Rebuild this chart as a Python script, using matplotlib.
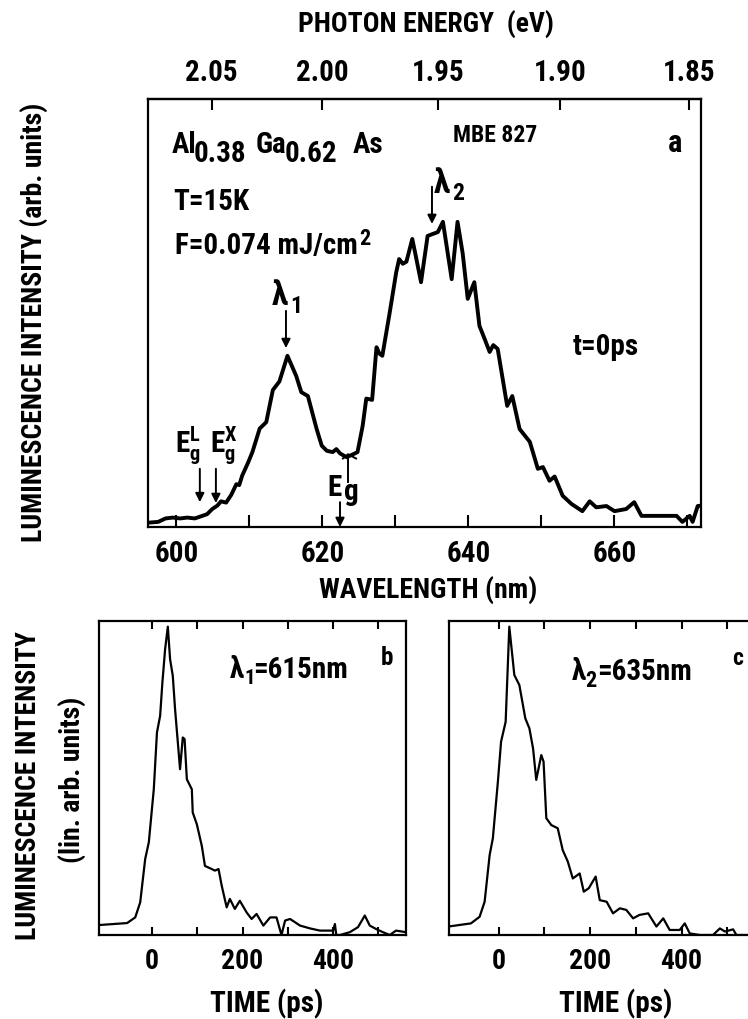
import matplotlib.pyplot as plt
import numpy as np
from matplotlib import font_manager

# --- spectrum at t = 0 ps (panel a) ---
wavelength_nm = [596.1, 597.5, 598.5, 599.5, 600.5, 601.5, 602.5, 603.2, 604.2, 604.9,
                 605.6, 606.1, 606.8, 607.5, 608.2, 608.6, 609.0, 609.8, 610.4, 611.4,
                 612.3, 613.2, 614.1, 615.2, 616.4, 617.1, 618.0, 619.2, 619.9, 620.6,
                 621.4, 621.9, 622.4, 623.3, 624.2, 624.8, 625.5, 626.0, 626.8, 627.4,
                 627.8, 628.2, 629.2, 630.1, 630.5, 631.0, 631.5, 632.3, 632.7, 633.5,
                 634.4, 635.0, 635.8, 636.5, 637.7, 638.5, 639.2, 639.9, 640.8, 641.5,
                 642.2, 642.9, 643.4, 644.0, 645.3, 646.0, 647.0, 648.4, 649.5, 650.2,
                 651.1, 651.8, 652.9, 654.1, 655.6, 656.6, 657.5, 658.9, 660.0, 661.6,
                 662.7, 663.7, 666.2, 668.5, 669.3, 670.3, 670.7, 671.4, 671.9]
spectrum = [0.010, 0.012, 0.020, 0.022, 0.020, 0.022, 0.020, 0.024, 0.030, 0.042,
            0.050, 0.060, 0.057, 0.075, 0.100, 0.098, 0.120, 0.150, 0.175, 0.230,
            0.245, 0.320, 0.340, 0.400, 0.353, 0.315, 0.306, 0.229, 0.190, 0.178,
            0.175, 0.182, 0.172, 0.163, 0.170, 0.175, 0.236, 0.300, 0.297, 0.420,
            0.405, 0.400, 0.500, 0.595, 0.626, 0.615, 0.620, 0.673, 0.640, 0.572,
            0.680, 0.684, 0.689, 0.713, 0.579, 0.713, 0.640, 0.533, 0.572, 0.470,
            0.440, 0.409, 0.425, 0.416, 0.283, 0.306, 0.229, 0.199, 0.136, 0.140,
            0.108, 0.118, 0.073, 0.054, 0.037, 0.060, 0.046, 0.049, 0.037, 0.042,
            0.058, 0.026, 0.026, 0.026, 0.012, 0.026, 0.012, 0.049, 0.050]

# --- time decay at lambda1 = 615 nm (panel b) ---
time_b = [-117, -114, -55, -37, -26, -15, -7, 4, 11, 18, 23, 29, 35, 40, 46, 51, 62, 68,
          72, 77, 88, 90, 99, 110, 117, 132, 139, 147, 154, 165, 172, 183, 194, 209, 220,
          231, 246, 261, 275, 286, 294, 305, 327, 349, 371, 400, 404, 407, 415, 437, 455,
          470, 481, 495, 510, 525, 539, 561]
decay_b = [0.032, 0.032, 0.038, 0.056, 0.104, 0.242, 0.295, 0.464, 0.645, 0.698, 0.804,
           0.910, 0.982, 0.878, 0.825, 0.719, 0.528, 0.629, 0.624, 0.496, 0.464, 0.390,
           0.353, 0.284, 0.220, 0.210, 0.205, 0.210, 0.157, 0.088, 0.115, 0.083, 0.109,
           0.072, 0.051, 0.067, 0.030, 0.056, 0.056, 0.000, 0.046, 0.051, 0.030, 0.021,
           0.014, 0.014, 0.035, 0.000, 0.000, 0.009, 0.025, 0.062, 0.030, 0.019, 0.009,
           0.000, 0.014, 0.009]

# --- time decay at lambda2 = 635 nm (panel c) ---
time_c = [-110, -61, -42, -31, -20, -13, -2, 5, 15, 23, 34, 45, 58, 67, 75, 82, 93, 98,
          104, 115, 129, 140, 151, 162, 177, 186, 197, 212, 221, 236, 250, 265, 279, 294,
          308, 327, 345, 360, 374, 396, 407, 418, 440, 469, 484, 495, 513, 520, 545, 563]
decay_c = [0.027, 0.037, 0.058, 0.106, 0.255, 0.308, 0.488, 0.616, 0.679, 0.982, 0.828,
           0.796, 0.690, 0.658, 0.594, 0.494, 0.573, 0.552, 0.372, 0.350, 0.340, 0.270,
           0.234, 0.180, 0.196, 0.138, 0.149, 0.186, 0.111, 0.106, 0.069, 0.085, 0.080,
           0.053, 0.064, 0.069, 0.027, 0.053, 0.016, 0.016, 0.037, 0.005, 0.000, 0.000,
           0.021, 0.011, 0.018, 0.000, 0.000, 0.000]

wl_ticks = [600, 620, 640, 660]
wl_minor = [610, 630, 650, 670]
ev_ticks = [2.05, 2.00, 1.95, 1.90, 1.85]
t_ticks = [0, 200, 400]
t_minor = [100, 300, 500]

lambda1_nm, lambda2_nm = 615, 635
gap_L_nm, gap_X_nm, gap_nm = 603.2, 605.4, 622.4

W, H = 748, 1020


def pick_font():
    bold = set()
    for f in font_manager.fontManager.ttflist:
        w = f.weight if isinstance(f.weight, int) else font_manager.weight_dict.get(f.weight, 400)
        if w >= 700:
            bold.add(f.name)
    for name in ["Roboto Condensed", "Archivo Narrow", "PT Sans Narrow",
                 "Liberation Sans Narrow", "Open Sans Condensed",
                 "Saira SemiCondensed", "Sofia Sans Condensed"]:
        if name in bold:
            return name
    return "DejaVu Sans"


FONT = pick_font()
plt.rcParams["font.family"] = [FONT, "DejaVu Sans"]
plt.rcParams["font.weight"] = "bold"
plt.rcParams["mathtext.default"] = "regular"


def fx(px):
    return px / W


def fy(py):
    return 1 - py / H


def nm_to_ev(x):
    x = np.asarray(x, dtype=float)
    with np.errstate(divide="ignore"):
        return 1239.84 / x


fig = plt.figure(figsize=(W / 100, H / 100), dpi=100)
fig.patch.set_facecolor("white")


def label(px, py, s, size, **kw):
    kw.setdefault("va", "baseline")
    return fig.text(fx(px), fy(py), s, fontsize=size, **kw)


ax_a = fig.add_axes([fx(148), fy(528), 553 / W, 428 / H])
ax_b = fig.add_axes([fx(99), fy(936), 307 / W, 314 / H])
ax_c = fig.add_axes([fx(449), fy(936), 307 / W, 314 / H])

for ax in (ax_a, ax_b, ax_c):
    for sp in ax.spines.values():
        sp.set_linewidth(1.6)
    ax.set_yticks([])
    ax.set_ylim(0, 1)

# panel a: spectrum
ax_a.plot(wavelength_nm, spectrum, color="black", lw=2.8, solid_joinstyle="round")
ax_a.set_xlim(596.1, 671.85)
ax_a.set_xticks(wl_ticks)
ax_a.set_xticks(wl_minor, minor=True)
ax_a.tick_params(axis="x", which="both", direction="in", length=9, width=1.5,
                 top=False, labelsize=21, pad=9)

sec = ax_a.secondary_xaxis("top", functions=(nm_to_ev, nm_to_ev))
sec.set_xticks(ev_ticks)
sec.set_xticklabels([f"{v:.2f}" for v in ev_ticks])
sec.tick_params(direction="in", length=8, width=1.5, labelsize=21, pad=9)
sec.spines["top"].set_linewidth(1.6)

label(426, 24, "PHOTON ENERGY  (eV)", 20, ha="center", va="center")
label(428, 590, "WAVELENGTH (nm)", 20, ha="center", va="center")
label(34, 322, "LUMINESCENCE INTENSITY (arb. units)", 20, rotation=90,
      ha="center", va="center")

# composition, with large subscripts
label(172, 153, "Al", 21)
label(194, 162, "0.38", 21)
label(256, 153, "Ga", 21)
label(285, 162, "0.62", 21)
label(353, 153, "As", 21)
label(173, 210, "T=15K", 21)
label(175, 254, "F=0.074 mJ/cm", 21)
label(359, 245, "2", 16)
label(453, 142, "MBE 827", 17)
label(675, 152, "a", 22, ha="center")
label(573, 355, "t=0ps", 21)

label(272, 305, "λ", 24)
label(290, 313, "1", 17)
label(434, 193, "λ", 24)
label(452, 200, "2", 17)
label(175, 453, r"$E_g^L$", 21)
label(210, 453, r"$E_g^X$", 21)
label(327, 496, "E", 21)
label(344, 500, "g", 21)

arrow = dict(arrowstyle="-|>", lw=1.4, color="black", mutation_scale=13,
             shrinkA=0, shrinkB=0)
ax_a.annotate("", xy=(lambda1_nm, 0.418), xytext=(lambda1_nm, 0.505), arrowprops=arrow)
ax_a.annotate("", xy=(lambda2_nm, 0.708), xytext=(lambda2_nm, 0.795), arrowprops=arrow)
ax_a.annotate("", xy=(gap_L_nm, 0.058), xytext=(gap_L_nm, 0.136), arrowprops=arrow)
ax_a.annotate("", xy=(gap_X_nm, 0.056), xytext=(gap_X_nm, 0.136), arrowprops=arrow)
ax_a.annotate("", xy=(gap_nm, 0.0), xytext=(gap_nm, 0.058), arrowprops=arrow)
# small marker on the curve above the E_g arrow
ax_a.plot([623.5, 623.5], [0.105, 0.166], color="black", lw=1.4)
ax_a.plot([622.8, 623.5, 624.6], [0.160, 0.170, 0.160], color="black", lw=1.4)

# panels b and c: time decays
for ax, t, y, xlim in ((ax_b, time_b, decay_b, (-117, 561)),
                       (ax_c, time_c, decay_c, (-109, 563))):
    ax.plot(t, y, color="black", lw=1.6, solid_joinstyle="round")
    ax.set_xlim(*xlim)
    ax.set_xticks(t_ticks)
    ax.set_xticks(t_minor, minor=True)
    ax.tick_params(axis="x", which="both", direction="in", length=6, width=1.5,
                   top=True, labelsize=20, pad=9)

label(267, 1004, "TIME (ps)", 21, ha="center", va="center")
label(616, 1004, "TIME (ps)", 21, ha="center", va="center")
label(29, 786, "LUMINESCENCE INTENSITY", 20, rotation=90, ha="center", va="center")
label(72, 780, "(lin. arb. units)", 20, rotation=90, ha="center", va="center")

label(230, 678, "λ", 21)
label(244, 684, "1", 15)
label(253, 678, "=615nm", 21)
label(387, 665, "b", 18, ha="center")
label(572, 680, "λ", 21)
label(585, 687, "2", 16)
label(597, 680, "=635nm", 21)
label(738, 665, "c", 17, ha="center")

fig.savefig("out.png", dpi=100)
